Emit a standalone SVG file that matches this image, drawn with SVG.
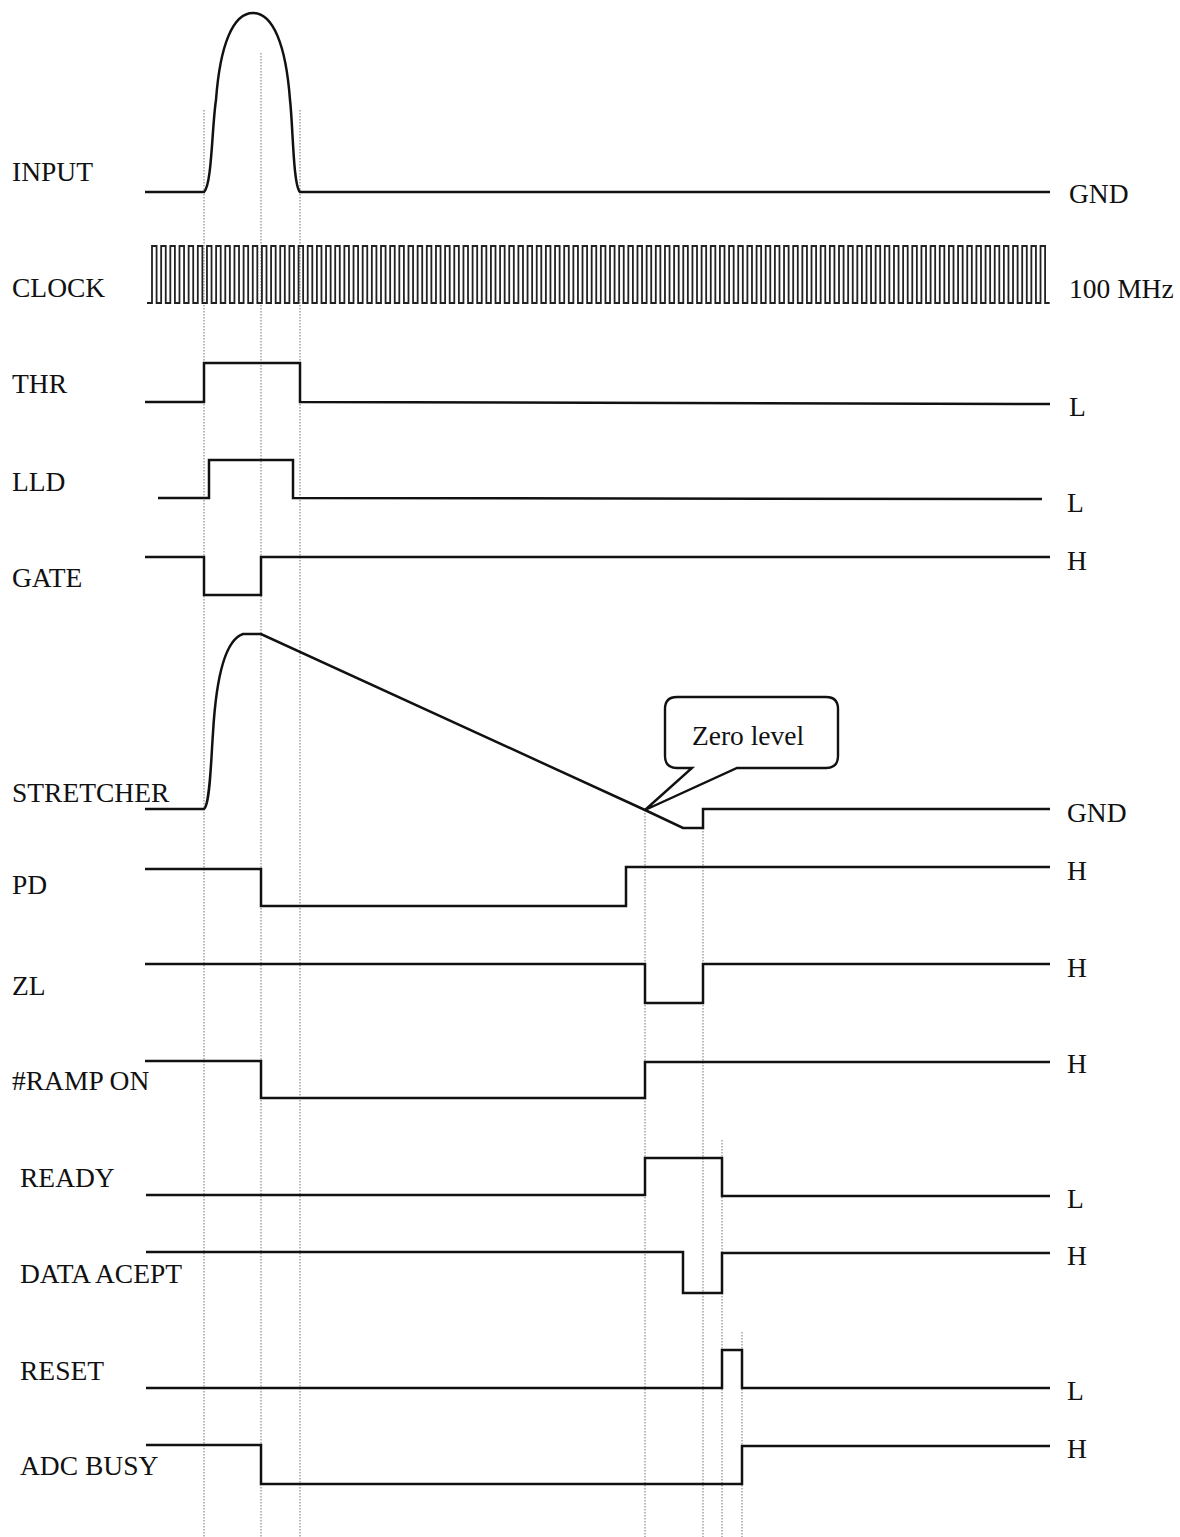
<svg xmlns="http://www.w3.org/2000/svg" width="1180" height="1537" viewBox="0 0 1180 1537">
<style>
text{font-family:"Liberation Serif","Times New Roman",serif;font-size:27.5px;fill:#111}
.sig{fill:none;stroke:#111;stroke-width:2.5;stroke-linejoin:miter}
.clk{fill:none;stroke:#222;stroke-width:1.8}
.guide{stroke:#8a8a8a;stroke-width:1.2;stroke-dasharray:1.5 1.5}
.call{fill:#fff;stroke:#111;stroke-width:2.4}
</style>
<rect width="1180" height="1537" fill="#fff"/>
<g id="connectors">
<line class="guide" x1="204" y1="110" x2="204" y2="1537"/>
<line class="guide" x1="261" y1="53" x2="261" y2="1537"/>
<line class="guide" x1="300" y1="110" x2="300" y2="1537"/>
<line class="guide" x1="645" y1="810" x2="645" y2="1537"/>
<line class="guide" x1="703" y1="810" x2="703" y2="1537"/>
<line class="guide" x1="722" y1="1140" x2="722" y2="1537"/>
<line class="guide" x1="742" y1="1332" x2="742" y2="1537"/>
</g>
<g id="input">
<text x="12" y="181">INPUT</text>
<path class="sig" d="M145,192 H204 C212,185 212,125 216,100 C220,45 233,13 253,13 C273,13 286,45 290,100 C293,125 293,185 300,192 H1050"/>
<text x="1069" y="203">GND</text>
</g>
<g id="clock">
<text x="12" y="297">CLOCK</text>
<path class="clk" d="M147,303 H152
v-57h4.58v57h4.58v-57h4.58v57h4.58v-57h4.58v57h4.58v-57h4.58v57h4.58v-57h4.58v57h4.58v-57h4.58v57h4.58v-57h4.58v57h4.58v-57h4.58v57h4.58v-57h4.58v57h4.58v-57h4.58v57h4.58
v-57h4.58v57h4.58v-57h4.58v57h4.58v-57h4.58v57h4.58v-57h4.58v57h4.58v-57h4.58v57h4.58v-57h4.58v57h4.58v-57h4.58v57h4.58v-57h4.58v57h4.58v-57h4.58v57h4.58v-57h4.58v57h4.58
v-57h4.58v57h4.58v-57h4.58v57h4.58v-57h4.58v57h4.58v-57h4.58v57h4.58v-57h4.58v57h4.58v-57h4.58v57h4.58v-57h4.58v57h4.58v-57h4.58v57h4.58v-57h4.58v57h4.58v-57h4.58v57h4.58
v-57h4.58v57h4.58v-57h4.58v57h4.58v-57h4.58v57h4.58v-57h4.58v57h4.58v-57h4.58v57h4.58v-57h4.58v57h4.58v-57h4.58v57h4.58v-57h4.58v57h4.58v-57h4.58v57h4.58v-57h4.58v57h4.58
v-57h4.58v57h4.58v-57h4.58v57h4.58v-57h4.58v57h4.58v-57h4.58v57h4.58v-57h4.58v57h4.58v-57h4.58v57h4.58v-57h4.58v57h4.58v-57h4.58v57h4.58v-57h4.58v57h4.58v-57h4.58v57h4.58
v-57h4.58v57h4.58v-57h4.58v57h4.58v-57h4.58v57h4.58v-57h4.58v57h4.58v-57h4.58v57h4.58v-57h4.58v57h4.58v-57h4.58v57h4.58v-57h4.58v57h4.58v-57h4.58v57h4.58v-57h4.58v57h4.58
v-57h4.58v57h4.58v-57h4.58v57h4.58v-57h4.58v57h4.58v-57h4.58v57h4.58v-57h4.58v57h4.58v-57h4.58v57h4.58v-57h4.58v57h4.58v-57h4.58v57h4.58v-57h4.58v57h4.58v-57h4.58v57h4.58
v-57h4.58v57h4.58v-57h4.58v57h4.58v-57h4.58v57h4.58v-57h4.58v57h4.58v-57h4.58v57h4.58v-57h4.58v57h4.58v-57h4.58v57h4.58v-57h4.58v57h4.58v-57h4.58v57h4.58v-57h4.58v57h4.58
v-57h4.58v57h4.58v-57h4.58v57h4.58v-57h4.58v57h4.58v-57h4.58v57h4.58v-57h4.58v57h4.58v-57h4.58v57h4.58v-57h4.58v57h4.58v-57h4.58v57h4.58v-57h4.58v57h4.58v-57h4.58v57h4.58
v-57h4.58v57h4.58v-57h4.58v57h4.58v-57h4.58v57h4.58v-57h4.58v57h4.58v-57h4.58v57h4.58v-57h4.58v57h4.58v-57h4.58v57h4.58v-57h4.58v57h4.58"/>
<text x="1069" y="298">100 MHz</text>
</g>
<g id="thr">
<text x="12" y="393">THR</text>
<path class="sig" d="M145,402 H204 V363 H300 V402 L1050,404"/>
<text x="1069" y="416">L</text>
</g>
<g id="lld">
<text x="12" y="491">LLD</text>
<path class="sig" d="M158,498 H209 V460 H293 V498 L1042,499"/>
<text x="1067" y="512">L</text>
</g>
<g id="gate">
<text x="12" y="587">GATE</text>
<path class="sig" d="M145,557 H204 V595 H261 V557 H1050"/>
<text x="1067" y="570">H</text>
</g>
<g id="stretcher">
<text x="12" y="802">STRETCHER</text>
<path class="sig" d="M145,809 H204 C210,805 211,760 213,733 C216,680 225,640 243,634 H261 L645,810 L683,828 H703 V809 H1050"/>
<text x="1067" y="822">GND</text>
</g>
<g id="zero-level">
<path class="call" d="M677,697 H826 Q838,697 838,709 V756 Q838,768 826,768 H737 L645,810 L692,768 H677 Q665,768 665,756 V709 Q665,697 677,697 Z"/>
<text x="748" y="745" text-anchor="middle">Zero level</text>
</g>
<g id="pd">
<text x="12" y="894">PD</text>
<path class="sig" d="M145,869 H261 V906 H626 V867 H1050"/>
<text x="1067" y="880">H</text>
</g>
<g id="zl">
<text x="12" y="995">ZL</text>
<path class="sig" d="M145,964 H645 V1003 H703 V964 H1050"/>
<text x="1067" y="977">H</text>
</g>
<g id="ramp-on">
<text x="12" y="1090">#RAMP ON</text>
<path class="sig" d="M145,1061 H261 V1098 H645 V1062 H1050"/>
<text x="1067" y="1073">H</text>
</g>
<g id="ready">
<text x="20" y="1187">READY</text>
<path class="sig" d="M146,1195 H645 V1158 H722 V1196 H1050"/>
<text x="1067" y="1208">L</text>
</g>
<g id="data-acept">
<text x="20" y="1283">DATA ACEPT</text>
<path class="sig" d="M146,1252 H683 V1293 H722 V1253 H1050"/>
<text x="1067" y="1265">H</text>
</g>
<g id="reset">
<text x="20" y="1380">RESET</text>
<path class="sig" d="M146,1388 H722 V1350 H742 V1388 H1050"/>
<text x="1067" y="1400">L</text>
</g>
<g id="adc-busy">
<text x="20" y="1475">ADC BUSY</text>
<path class="sig" d="M146,1445 H261 V1484 H742 V1446 H1050"/>
<text x="1067" y="1458">H</text>
</g>
</svg>
